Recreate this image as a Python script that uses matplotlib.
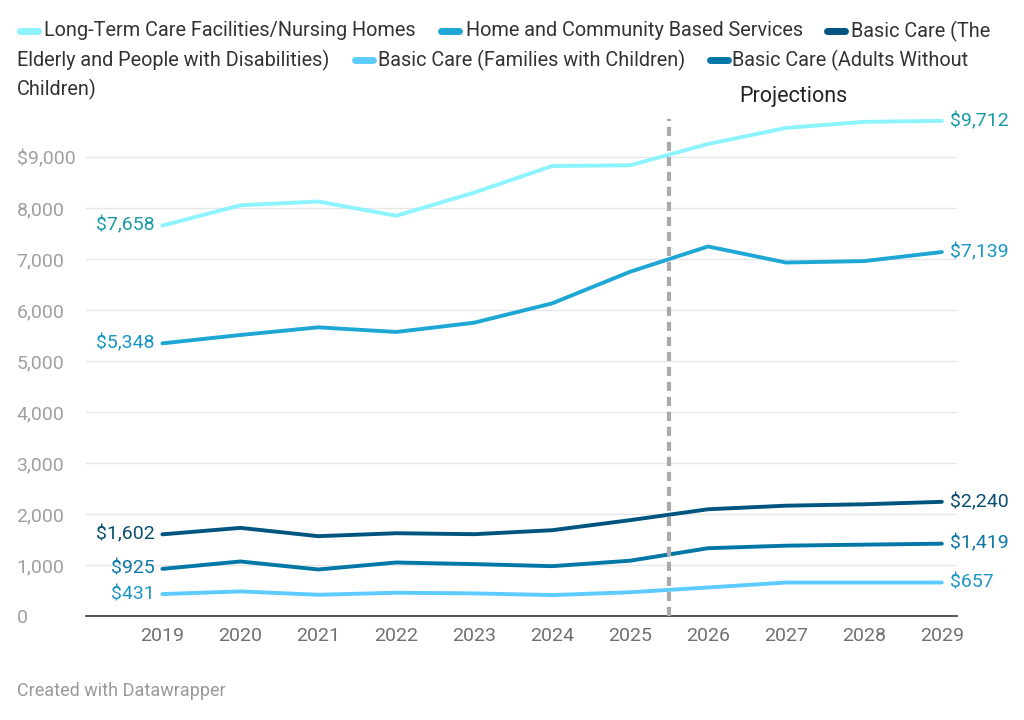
import matplotlib
matplotlib.use('Agg')
import matplotlib.pyplot as plt
from matplotlib.lines import Line2D
from matplotlib.ticker import FuncFormatter

plt.rcParams['font.family'] = ['Roboto', 'DejaVu Sans']

years = [2019, 2020, 2021, 2022, 2023, 2024, 2025, 2026, 2027, 2028, 2029]

names = ['Long-Term Care Facilities/Nursing Homes',
         'Home and Community Based Services',
         'Basic Care (The Elderly and People with Disabilities)',
         'Basic Care (Families with Children)',
         'Basic Care (Adults Without Children)']

ltc = [7658, 8056, 8130, 7850, 8305, 8826, 8840, 9258, 9573, 9692, 9712]
hcbs = [5348, 5512, 5662, 5571, 5753, 6132, 6752, 7248, 6933, 6961, 7139]
elderly = [1602, 1729, 1566, 1624, 1605, 1683, 1880, 2094, 2164, 2192, 2240]
families = [431, 483, 417, 457, 444, 411, 466, 560, 657, 657, 657]
adults = [925, 1070, 913, 1050, 1018, 978, 1085, 1330, 1380, 1400, 1419]

series = [ltc, hcbs, elderly, families, adults]
colors = ['#8cf3ff', '#1ea7d4', '#005580', '#5ccbff', '#0077a6']
label_colors = ['#1a9ba6', '#1896c4', '#0b4f70', '#2196c4', '#0f78a6']

fig = plt.figure(figsize=(10.24, 7.2), dpi=100)
ax = fig.add_axes([0.084, 0.1444, 0.851, 0.694])

for vals, c, lc in zip(series, colors, label_colors):
    ax.plot(years, vals, color=c, lw=2.8, solid_capstyle='round', zorder=3)
    ax.text(years[0] - 0.1, vals[0], '${:,}'.format(vals[0]), ha='right', va='center',
            fontsize=14, color=lc)
    ax.text(years[-1] + 0.1, vals[-1], '${:,}'.format(vals[-1]), ha='left', va='center',
            fontsize=14, color=lc)

# projections divider
ax.plot([2025.5, 2025.5], [0, 9750], color='#aaaaaa', lw=3, ls=(0, (2.2, 1.4)), zorder=4,
        clip_on=False)
ax.text(2027.1, 9990, 'Projections', ha='center', va='bottom', fontsize=15.5, color='#222222')

ax.set_xlim(2018.02, 2029.2)
ax.set_ylim(0, 9800)
ax.set_yticks(range(0, 10000, 1000))
ax.yaxis.set_major_formatter(FuncFormatter(lambda v, p: '${:,}'.format(int(v)) if v == 9000 else '{:,}'.format(int(v))))
ax.set_xticks(years)
ax.grid(axis='y', color='#e6e6e6', lw=1)
ax.set_axisbelow(True)
for s in ['top', 'right', 'left']:
    ax.spines[s].set_visible(False)
ax.spines['bottom'].set_color('#333333')
ax.spines['bottom'].set_linewidth(1.2)
ax.tick_params(axis='both', length=0, labelsize=14)
ax.tick_params(axis='y', colors='#a0a0a0', pad=50)
ax.tick_params(axis='x', colors='#707070', pad=8)
for lbl in ax.get_yticklabels():
    lbl.set_horizontalalignment('left')

# legend, wrapped over three lines like the original
W, H = 1024.0, 720.0
def swatch(x, y, c):
    fig.add_artist(Line2D([x / W, (x + 18) / W], [1 - y / H, 1 - y / H], color=c, lw=5,
                          solid_capstyle='round', transform=fig.transFigure))

def ltext(x, y, s):
    fig.text(x / W, 1 - y / H, s, fontsize=14.3, color='#333333', va='center', ha='left')

swatch(20, 31, colors[0]); ltext(44, 31, names[0])
swatch(441, 31, colors[1]); ltext(466, 31, names[1])
swatch(827, 31, colors[2]); ltext(851, 31, 'Basic Care (The')
ltext(17, 60, 'Elderly and People with Disabilities)')
swatch(355, 60, colors[3]); ltext(378, 60, names[3])
swatch(710, 60, colors[4]); ltext(732, 60, 'Basic Care (Adults Without')
ltext(17, 89, 'Children)')

fig.text(17 / W, 1 - 691 / H, 'Created with Datawrapper', fontsize=13, color='#999999',
         va='center', ha='left')

fig.savefig('out.png', dpi=100)
